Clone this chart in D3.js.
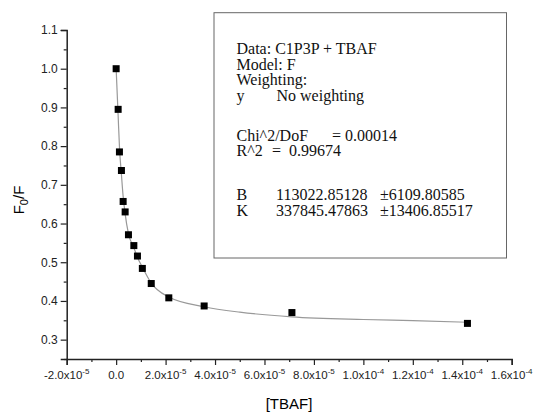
<html>
<head>
  <script src="https://d3js.org/d3.v7.min.js"></script>
  <style>
    body { margin: 0; background: #fff; }
  </style>
</head>
<body>
  <svg id="chart" width="536" height="415"></svg>
  <script>
    // measured points, [TBAF] in M and F0/F
    const tbaf = [0, 0.81e-6, 1.33e-6, 2.14e-6, 2.83e-6, 3.64e-6, 4.98e-6, 7.16e-6, 8.62e-6, 10.6e-6, 14.2e-6, 21.3e-6, 35.6e-6, 71.1e-6, 142.1e-6];
    const ratio = [1.000, 0.895, 0.785, 0.737, 0.657, 0.630, 0.571, 0.543, 0.516, 0.484, 0.445, 0.408, 0.387, 0.370, 0.342];

    // fitted curve
    const fitX = [0, 0.8e-6, 1.4e-6, 2.1e-6, 2.8e-6, 3.6e-6, 5.0e-6, 7.2e-6, 8.6e-6, 10.6e-6, 14.2e-6, 21.3e-6, 35.6e-6, 50e-6, 71e-6, 100e-6, 120e-6, 142e-6];
    const fitY = [1.0, 0.88, 0.79, 0.73, 0.672, 0.627, 0.573, 0.537, 0.513, 0.487, 0.446, 0.410, 0.385, 0.371, 0.359, 0.352, 0.349, 0.345];

    const xTicks = [-2e-5, 0, 2e-5, 4e-5, 6e-5, 8e-5, 1e-4, 1.2e-4, 1.4e-4, 1.6e-4];
    const yTicks = [0.3, 0.4, 0.5, 0.6, 0.7, 0.8, 0.9, 1.0, 1.1];

    const fitText = [
      ["Data: C1P3P + TBAF"],
      ["Model: F"],
      ["Weighting:"],
      ["y", "No weighting"],
      ["Chi^2/DoF", "= 0.00014"],
      ["R^2", "=  0.99674"],
      ["B", "113022.85128", "\u00b16109.80585"],
      ["K", "337845.47863", "\u00b113406.85517"]
    ];

    const svg = d3.select("#chart");
    const x = d3.scaleLinear().domain([-2e-5, 1.6e-4]).range([66.7, 511.7]);
    const y = d3.scaleLinear().domain([0.25, 1.1]).range([359, 30]);

    // x axis
    const minorX = d3.range(-2e-5, 1.6e-4, 1e-5).map(v => v + 1e-5).filter(v => v < 1.6e-4 && !xTicks.some(t => Math.abs(t - v) < 1e-9));
    const gx = svg.append("g").attr("transform", "translate(0,359)");
    gx.call(d3.axisBottom(x).tickValues(xTicks).tickSize(6).tickFormat(""));
    gx.append("g").call(d3.axisBottom(x).tickValues(minorX).tickSize(3).tickFormat(""));
    gx.selectAll("path").attr("stroke", "#222").attr("stroke-width", 1.5);
    gx.selectAll("line").attr("stroke", "#222").attr("stroke-width", 1.2);
    gx.selectAll("g g path").remove();

    const xl = gx.selectAll("text.lab").data(xTicks).join("text")
      .attr("class", "lab")
      .attr("x", d => x(d))
      .attr("y", 20)
      .attr("text-anchor", "middle")
      .attr("font-family", "Liberation Sans, Arial")
      .attr("font-size", 11.5)
      .attr("fill", "#222");
    xl.each(function (d) {
      const t = d3.select(this);
      if (d === 0) { t.text("0.0"); return; }
      const [m, e] = d.toExponential(1).split("e");
      t.append("tspan").text(m + "x10");
      t.append("tspan").attr("dy", -5).attr("font-size", 8).text(String(+e));
    });

    // y axis
    const minorY = d3.range(0.25, 1.1, 0.1).map(v => +v.toFixed(2));
    const gy = svg.append("g").attr("transform", "translate(66.7,0)");
    gy.call(d3.axisLeft(y).tickValues(yTicks).tickSize(6).tickFormat(d3.format(".1f")));
    gy.append("g").call(d3.axisLeft(y).tickValues(minorY).tickSize(3).tickFormat(""));
    gy.selectAll("path").attr("stroke", "#222").attr("stroke-width", 1.5);
    gy.selectAll("line").attr("stroke", "#222").attr("stroke-width", 1.2);
    gy.selectAll("g g path").remove();
    gy.selectAll("text").attr("font-family", "Liberation Sans, Arial").attr("font-size", 12).attr("fill", "#222").attr("x", -9);

    // titles
    svg.append("text")
      .attr("x", 289).attr("y", 409)
      .attr("text-anchor", "middle")
      .attr("font-family", "Liberation Sans, Arial")
      .attr("font-size", 15)
      .text("[TBAF]");

    const yt = svg.append("text")
      .attr("transform", "translate(24,200) rotate(-90)")
      .attr("text-anchor", "middle")
      .attr("font-family", "Liberation Sans, Arial")
      .attr("font-size", 15);
    yt.append("tspan").text("F");
    yt.append("tspan").attr("dy", 4).attr("font-size", 11).text("0");
    yt.append("tspan").attr("dy", -4).text("/F");

    // fit curve
    const fit = fitX.map((v, i) => [v, fitY[i]]);
    svg.append("path")
      .datum(fit)
      .attr("fill", "none")
      .attr("stroke", "#999")
      .attr("stroke-width", 1.2)
      .attr("d", d3.line().x(d => x(d[0])).y(d => y(d[1])).curve(d3.curveMonotoneX));

    // markers
    svg.selectAll("rect.pt").data(tbaf).join("rect")
      .attr("class", "pt")
      .attr("x", d => x(d) - 3.5)
      .attr("y", (d, i) => y(ratio[i]) - 3.5)
      .attr("width", 7)
      .attr("height", 7)
      .attr("fill", "#000");

    // fit result box
    svg.append("rect")
      .attr("x", 214).attr("y", 12.7)
      .attr("width", 292.5).attr("height", 245.3)
      .attr("fill", "#fff")
      .attr("stroke", "#666")
      .attr("stroke-width", 1);

    const rowY = [54, 69.5, 85, 100.5, 140.5, 156, 200, 215.5];
    const colX = [[236.5], [236.5], [236.5], [236.5, 276.5], [236.5, 332], [236.5, 272], [236.5, 276, 380], [236.5, 276, 380]];
    const box = svg.append("g")
      .attr("font-family", "Liberation Serif, Times New Roman")
      .attr("font-size", 16)
      .attr("fill", "#111");
    fitText.forEach((row, i) => {
      row.forEach((s, j) => {
        box.append("text")
          .attr("x", colX[i][j])
          .attr("y", rowY[i])
          .attr("xml:space", "preserve")
          .style("white-space", "pre")
          .text(s);
      });
    });
  </script>
</body>
</html>
